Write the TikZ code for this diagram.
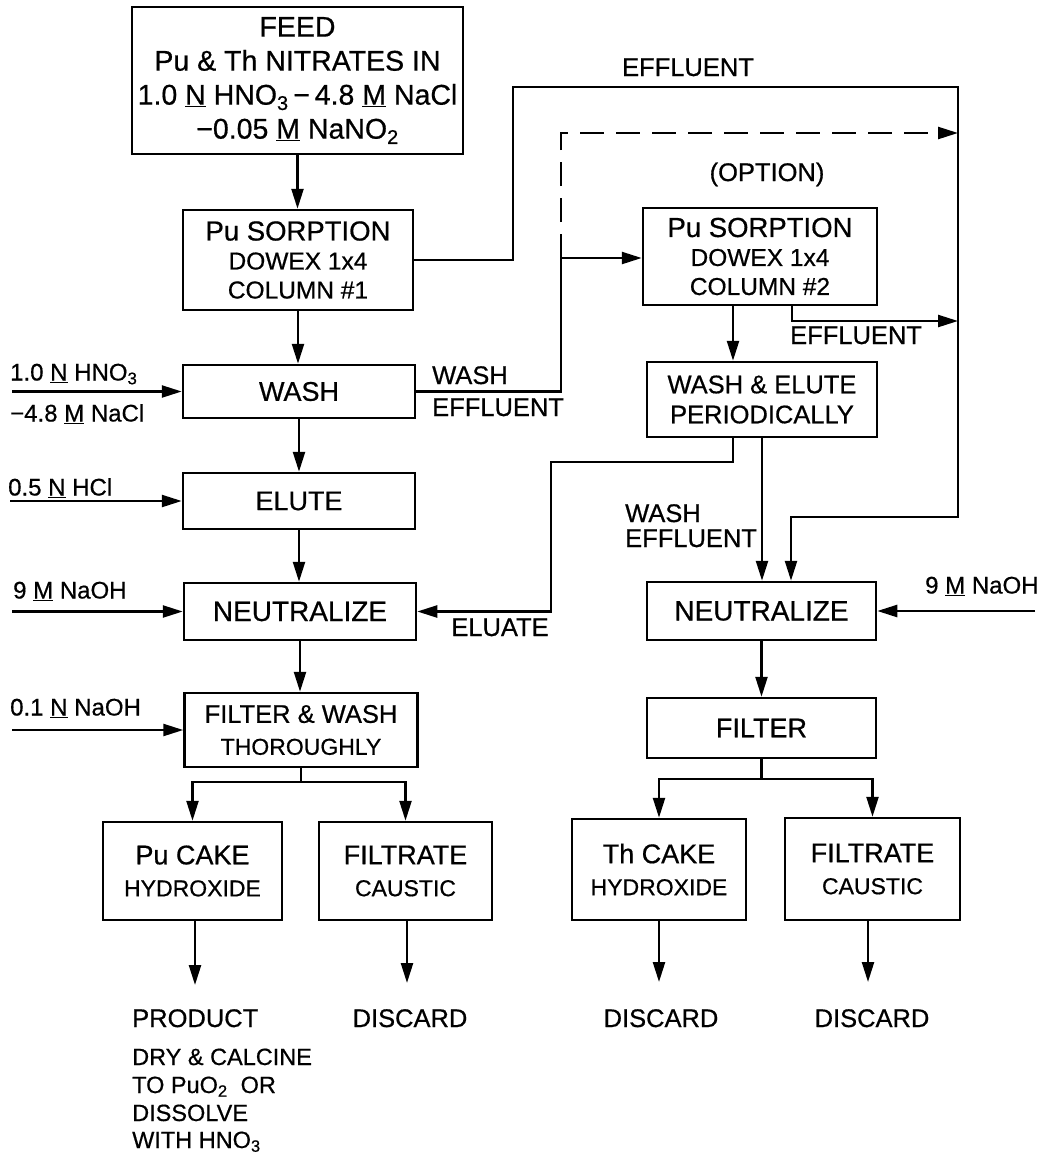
\documentclass[tikz,border=0pt]{standalone}
\usepackage{fontspec}
\setmainfont{Liberation Sans}[FakeBold=0.6]
\usetikzlibrary{arrows.meta}
\newcommand\fs[2]{\fontsize{#1}{#2}\selectfont}
\newcommand\un[1]{\underline{#1}}
\begin{document}
\begin{tikzpicture}[x=1pt,y=-1pt,
  box/.style={draw,line width=2.5pt,inner sep=0pt,align=center,font={\fs{27}{30}}},
  ln/.style={line width=2.4pt},
  arr/.style={ln,-{Triangle[length=20pt,width=12pt]}},
  lab/.style={inner sep=0pt,font={\fs{25.5}{30}},text height=18pt,text depth=0pt},
  inl/.style={inner sep=0pt,font={\fs{24}{30}},text height=17pt,text depth=0pt},
  sm/.style={inner sep=0pt,font={\fs{23.5}{28}},text height=16pt,text depth=0pt},
  dsh/.style={dash pattern=on 24pt off 12pt}
]
\useasboundingbox (0,0) rectangle (1038,1160);

% ---- boxes, left column
\node[box,minimum width=331pt,minimum height=147pt,font={\fs{28.5}{34}}] (feed) at (297.5,80.5)
  {FEED\\Pu \& Th NITRATES IN\\1.0 \un{N} HNO\textsubscript{3}\,−\,4.8 \un{M} NaCl\\−0.05 \un{M} NaNO\textsubscript{2}};
\node[box,minimum width=230pt,minimum height=100pt,font={\fs{27.5}{29}}] (ps1) at (298,260)
  {Pu SORPTION\\{\fs{24.5}{29}DOWEX 1x4}\\{\fs{24.5}{29}COLUMN \#1}};
\node[box,minimum width=232pt,minimum height=53pt] (wash) at (299,391.5) {WASH};
\node[box,minimum width=232pt,minimum height=56pt] (elute) at (299,501) {ELUTE};
\node[box,minimum width=232pt,minimum height=57pt,font={\fs{28}{30}}] (neu1) at (300,611.5) {NEUTRALIZE};
\node[box,minimum width=233pt,minimum height=74pt,font={\fs{25.5}{32}}] (filt1) at (301,730)
  {FILTER \& WASH\\{\fs{23}{32}THOROUGHLY}};
\node[box,minimum width=179pt,minimum height=98pt,font={\fs{27}{32}}] (pucake) at (192.5,871)
  {Pu CAKE\\{\fs{23}{32}HYDROXIDE}};
\node[box,minimum width=173pt,minimum height=98pt,font={\fs{27}{32}}] (filtr1) at (405.5,871)
  {FILTRATE\\{\fs{23}{32}CAUSTIC}};

% ---- boxes, right column
\node[box,minimum width=234pt,minimum height=97pt,font={\fs{27.5}{29}}] (ps2) at (760,256.5)
  {Pu SORPTION\\{\fs{24.5}{29}DOWEX 1x4}\\{\fs{24.5}{29}COLUMN \#2}};
\node[box,minimum width=230pt,minimum height=75pt,font={\fs{25.5}{30}}] (we) at (762,399.5)
  {WASH \& ELUTE\\PERIODICALLY};
\node[box,minimum width=229pt,minimum height=58pt,font={\fs{28}{30}}] (neu2) at (761.5,611) {NEUTRALIZE};
\node[box,minimum width=229pt,minimum height=60pt] (filt2) at (761.5,728) {FILTER};
\node[box,minimum width=174pt,minimum height=101pt,font={\fs{27}{32}}] (thcake) at (659,869.5)
  {Th CAKE\\{\fs{23}{32}HYDROXIDE}};
\node[box,minimum width=175pt,minimum height=102pt,font={\fs{27}{32}}] (filtr2) at (872.5,869)
  {FILTRATE\\{\fs{23}{32}CAUSTIC}};

% ---- labels
\node[inl,anchor=west] (l1a) at (10,372) {1.0 \un{N} HNO\textsubscript{3}};
\node[inl,anchor=west] (l1b) at (10,413) {−4.8 \un{M} NaCl};
\node[inl,anchor=west] (l2) at (8,487) {0.5 \un{N} HCl};
\node[inl,anchor=west] (l3) at (13,590) {9 \un{M} NaOH};
\node[inl,anchor=west] (l4) at (10,707) {0.1 \un{N} NaOH};
\node[inl,anchor=west] (l5) at (925,585) {9 \un{M} NaOH};
\node[lab] (effTop) at (688,67) {EFFLUENT};
\node[lab] (option) at (767,172) {(OPTION)};
\node[lab,anchor=west] (weA) at (432,375) {WASH};
\node[lab,anchor=west] (weB) at (432,407) {EFFLUENT};
\node[lab] (eluate) at (500,627) {ELUATE};
\node[lab,anchor=west] (we2A) at (625,513) {WASH};
\node[lab,anchor=west] (we2B) at (625,538) {EFFLUENT};
\node[lab,anchor=west] (eff2) at (790,335) {EFFLUENT};
\node[lab,anchor=west] (product) at (132,1018) {PRODUCT};
\node[lab] (dis1) at (410,1018) {DISCARD};
\node[lab] (dis2) at (661,1018) {DISCARD};
\node[lab] (dis3) at (872,1018) {DISCARD};
\node[sm,anchor=west] (p1) at (132,1057) {DRY \& CALCINE};
\node[sm,anchor=west] (p2) at (132,1085) {TO PuO\textsubscript{2}\ \ OR};
\node[sm,anchor=west] (p3) at (132,1113) {DISSOLVE};
\node[sm,anchor=west] (p4) at (132,1140) {WITH HNO\textsubscript{3}};

% ---- coordinates
\coordinate (c1) at (513,87);
\coordinate (c2) at (958,87);
\coordinate (c3) at (958,517);
\coordinate (d0) at (561,258);
\coordinate (d1) at (561,133);
\coordinate (e2) at (958,321);
\coordinate (el1) at (733,462);
\coordinate (el2) at (551,462);
\coordinate (s1) at (301,782);
\coordinate (s2) at (761.5,779);
\coordinate (i1) at (12,391.5);
\coordinate (i2) at (10,501);
\coordinate (i3) at (12,611.5);
\coordinate (i4) at (12,730);
\coordinate (i5) at (1035,611);
\coordinate (o1) at (195,985);
\coordinate (o2) at (407,983);
\coordinate (o3) at (659,982);
\coordinate (o4) at (868,982);

% ---- left chain
\draw[arr] (feed.south) -- (feed.south |- ps1.north);
\draw[arr] (ps1.south) -- (ps1.south |- wash.north);
\draw[arr] (wash.south) -- (wash.south |- elute.north);
\draw[arr] (elute.south) -- (elute.south |- neu1.north);
\draw[arr] (neu1.south) -- (neu1.south |- filt1.north);
\draw[ln] (filt1.south) -- (s1);
\draw[arr] (s1) -| (pucake.north);
\draw[arr] (s1) -| (filtr1.north);
\draw[arr] (o1 |- pucake.south) -- (o1);
\draw[arr] (o2 |- filtr1.south) -- (o2);

% ---- inputs
\draw[arr] (i1) -- (wash.west);
\draw[arr] (i2) -- (elute.west);
\draw[arr] (i3) -- (neu1.west);
\draw[arr] (i4) -- (filt1.west);
\draw[arr] (i5) -- (neu2.east);

% ---- effluent of column 1 round to the right
\draw[arr] (ps1.east) -| (c1) -- (c2) -- (c3) -| (791,0 |- neu2.north);
% ---- wash effluent to column 2
\draw[arr] (wash.east) -| (d0) -- (ps2.west |- d0);
% ---- option (dashed)
\draw[arr,dsh] (d0) -- (d1) -- (d1 -| c2);
% ---- column 2
\draw[arr] (792,0 |- ps2.south) |- (e2);
\draw[arr] (733,0 |- ps2.south) -- (733,0 |- we.north);
\draw[arr] (el1 |- we.south) -- (el1) -- (el2) |- (neu1.east);
\draw[arr] (762,0 |- we.south) -- (762,0 |- neu2.north);
\draw[arr] (neu2.south) -- (neu2.south |- filt2.north);
\draw[ln] (filt2.south) -- (s2);
\draw[arr] (s2) -| (thcake.north);
\draw[arr] (s2) -| (filtr2.north);
\draw[arr] (o3 |- thcake.south) -- (o3);
\draw[arr] (o4 |- filtr2.south) -- (o4);
\end{tikzpicture}
\end{document}
